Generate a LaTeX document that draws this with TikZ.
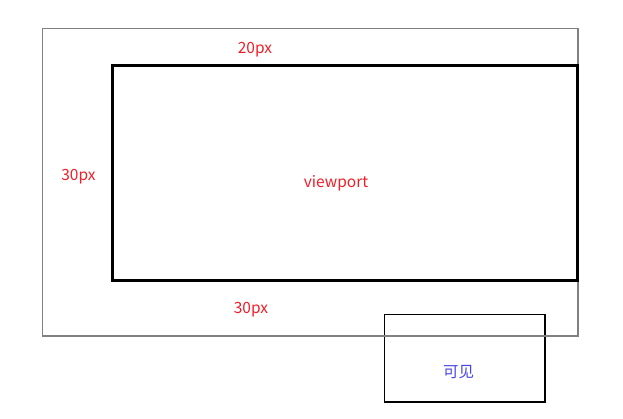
\documentclass[tikz,border=0pt]{standalone}
\usepackage{fontspec}
\setmainfont{Noto Sans CJK SC}
\definecolor{lbl}{RGB}{240,30,40}
\definecolor{vis}{RGB}{70,70,230}
\begin{document}
\begin{tikzpicture}[x=1pt,y=-1pt,
  lab/.style={text=lbl,font=\fontsize{15.5}{17}\selectfont,inner sep=0pt},
  box/.style={inner sep=0pt,outer sep=0pt,anchor=north west},
  outerbox/.style={box,draw=black!50,line width=1.2pt},
  viewbox/.style={box,draw=black,line width=3pt},
  visbox/.style={box,draw=black,line width=1.2pt}]
\useasboundingbox (0,0) rectangle (623,419);
\node[visbox,minimum width=160.5pt,minimum height=87.5pt] (vis) at (384.5,314.5) {};
\node[text=vis,font=\fontsize{15.5}{17}\selectfont,inner sep=0pt] (vt) at (458.5,372) {可见};
\node[outerbox,minimum width=535.5pt,minimum height=307.5pt] (outer) at (42.5,28.5) {};
\node[viewbox,minimum width=465pt,minimum height=215pt] (view) at (112,65.5) {};
\node[lab] (vp) at (336,183.5) {viewport};
\node[lab] (top) at (255,49.5) {20px};
\node[lab] (left) at (78.5,176.5) {30px};
\node[lab] (bot) at (251,309.5) {30px};
\end{tikzpicture}
\end{document}
